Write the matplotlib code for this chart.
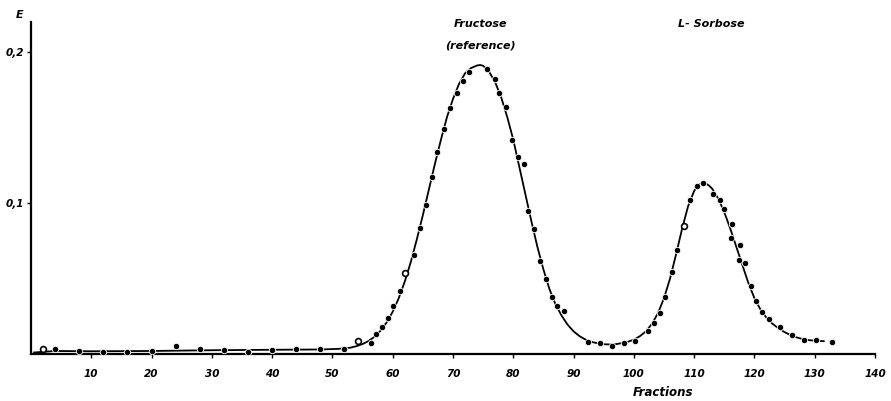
import matplotlib
matplotlib.use("Agg")
import matplotlib.pyplot as plt

# ---- data ----
filled_x = [4, 8, 12, 16, 20, 24, 28, 32, 36, 40, 44, 48, 52,
            56.4, 57.2, 58.3, 59.3, 60.1, 61.2, 63.5, 64.5, 65.5, 66.5, 67.4, 68.5,
            69.5, 70.6, 71.6, 72.6, 75.6, 76.9, 77.7, 78.8, 79.8, 80.7, 81.8, 82.4,
            83.4, 84.4, 85.5, 86.5, 87.3, 88.4, 92.4, 94.4, 96.3, 98.4, 100.2,
            102.3, 103.3, 104.3, 105.2, 106.3, 107.2, 109.3, 110.4, 111.4, 113.2,
            114.3, 115.0, 116.3, 116.1, 117.6, 117.4, 118.5, 119.5, 120.2, 121.3,
            122.4, 124.2, 126.3, 128.2, 130.2, 132.8]
filled_y = [0.003, 0.002, 0.0015, 0.0012, 0.0022, 0.005, 0.003, 0.0025, 0.0015,
            0.0028, 0.003, 0.003, 0.0035,
            0.0075, 0.013, 0.0177, 0.0236, 0.0318, 0.042, 0.0656, 0.0832, 0.0987,
            0.117, 0.134, 0.149, 0.163, 0.173, 0.181, 0.1866, 0.1887, 0.182, 0.173,
            0.1636, 0.142, 0.1307, 0.1256, 0.0945, 0.0828, 0.0616, 0.0499, 0.038,
            0.032, 0.0283, 0.008, 0.0075, 0.0054, 0.0071, 0.0086,
            0.0152, 0.0203, 0.0274, 0.038, 0.0545, 0.0689, 0.102, 0.111, 0.113,
            0.106, 0.102, 0.096, 0.086, 0.077, 0.072, 0.062, 0.060, 0.045, 0.035,
            0.028, 0.023, 0.018, 0.0126, 0.0093, 0.0093, 0.0077]

open_x = [2, 54.3, 62.1, 108.4]
open_y = [0.003, 0.0088, 0.054, 0.0845]

curve_x = [0.5, 4, 10, 20, 30, 40, 48, 51, 53, 54, 55, 56, 57, 58, 59, 60, 61,
           62, 63, 64, 65, 66, 67, 68, 69, 70, 71, 72, 73, 74, 74.5, 75, 76, 77,
           78, 79, 80, 81, 82, 83, 84, 85, 86, 87, 88, 89, 90, 91, 92, 93, 94,
           95, 96, 97, 98, 99, 100, 101, 102, 103, 104, 105, 106, 107, 108, 109,
           110, 110.5, 111, 111.5, 112, 112.5, 113, 114, 115, 116, 117, 118, 119,
           120, 121, 122, 123, 124, 125, 126, 127, 128, 129, 130, 131.5]
curve_y = [0.001, 0.002, 0.0018, 0.002, 0.0025, 0.0028, 0.003, 0.0034, 0.0042,
           0.0052, 0.0066, 0.0086, 0.0115, 0.0155, 0.021, 0.028, 0.037, 0.048,
           0.061, 0.076, 0.092, 0.109, 0.126, 0.142, 0.157, 0.169, 0.179, 0.186,
           0.1895, 0.1912, 0.1915, 0.191, 0.187, 0.18, 0.17, 0.157, 0.142, 0.124,
           0.106, 0.088, 0.071, 0.056, 0.043, 0.033, 0.0255, 0.0195, 0.015,
           0.0118, 0.0095, 0.008, 0.0071, 0.0065, 0.0063, 0.0065, 0.0072, 0.0081,
           0.0095, 0.0118, 0.015, 0.02, 0.027, 0.037, 0.05, 0.066, 0.083, 0.098,
           0.108, 0.111, 0.1128, 0.1133, 0.1128, 0.1115, 0.1095, 0.103, 0.094,
           0.083, 0.071, 0.059, 0.047, 0.037, 0.0295, 0.024, 0.02, 0.017, 0.0145,
           0.0125, 0.011, 0.0099, 0.0092, 0.0088, 0.0085]

x_ticks = [10, 20, 30, 40, 50, 60, 70, 80, 90, 100, 110, 120, 130, 140]
y_ticks = [0.1, 0.2]
y_tick_labels = ["0,1", "0,2"]

# ---- figure ----
W, H = 891, 401
fig = plt.figure(figsize=(W / 100, H / 100), dpi=100)
ax = fig.add_axes([31 / W, (H - 354) / H, 844 / W, 332 / H])

font = dict(family="DejaVu Sans", style="italic", weight="bold")

ax.plot(curve_x, curve_y, color="black", lw=1.3, zorder=2)
ax.plot(filled_x, filled_y, "o", color="black", ms=4.6,
        mec="white", mew=0.6, zorder=3)
ax.plot(open_x, open_y, "o", mfc="white", mec="black", ms=4.2, mew=1.2, zorder=3)

ax.set_xlim(0, 140)
ax.set_ylim(0, 0.22)
for s in ("top", "right"):
    ax.spines[s].set_visible(False)
for s in ("left", "bottom"):
    ax.spines[s].set_linewidth(1.6)

ax.set_xticks(x_ticks)
ax.set_xticklabels([str(t) for t in x_ticks], fontsize=7.5, **font)
ax.set_yticks(y_ticks)
ax.set_yticklabels(y_tick_labels, fontsize=7.5, **font)
ax.tick_params(axis="x", direction="out", length=3, width=1, pad=8)
ax.tick_params(axis="y", direction="out", length=3, width=1, pad=2)

fig.text(663 / W, 1 - 392 / H, "Fractions", ha="center", va="center",
         fontsize=8.5, **font)
fig.text(20 / W, 1 - 15 / H, "E", ha="center", va="center", fontsize=8, **font)
ax.text(74.5, 0.2185, "Fructose", ha="center", va="center", fontsize=8, **font)
ax.text(74.5, 0.2045, "(reference)", ha="center", va="center", fontsize=8, **font)
ax.text(112.8, 0.2185, "L- Sorbose", ha="center", va="center", fontsize=8, **font)

for t in ax.texts:
    t.set_clip_on(False)

fig.savefig("out.png", dpi=100)
